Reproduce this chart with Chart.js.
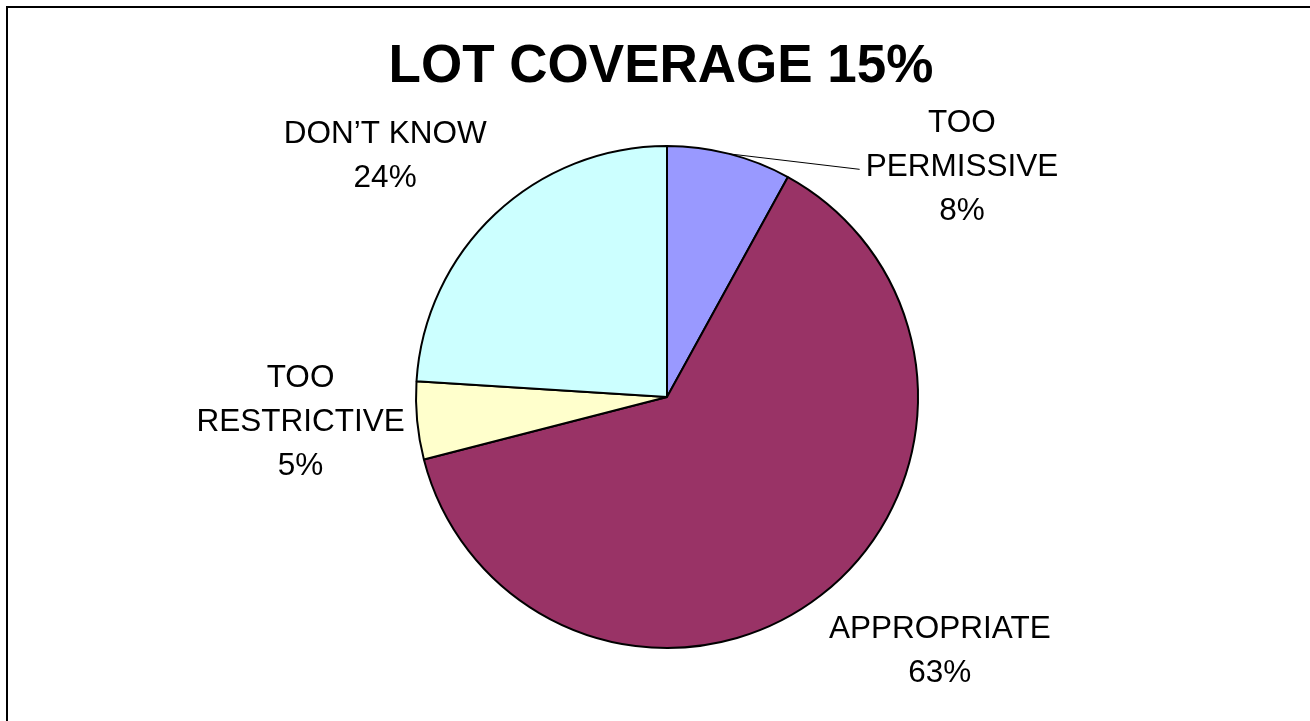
<!DOCTYPE html>
<html lang="en-US">
    <head>
        <title>Lot Coverage 15%</title>
        <script src="https://cdn.jsdelivr.net/npm/chart.js@4"></script>
        <style>
            body{
                margin: 0;
                background-color: white;
                overflow: hidden;
            }
            #wrap{
                position: absolute;
                left: 0;
                top: 0;
                width: 1310px;
                height: 721px;
            }
        </style>
    </head>
    <body>
        <div id="wrap"><canvas id="chart-0"></canvas></div>

        <script>
            // chart data
            var categories = ['TOO\nPERMISSIVE', 'APPROPRIATE', 'TOO\nRESTRICTIVE', 'DON\u2019T KNOW'];
            var shares = [8, 63, 5, 24];
            var sliceColors = ['#9999FF', '#993366', '#FFFFCC', '#CCFFFF'];
            var chartTitle = 'LOT COVERAGE 15%';

            // where each label block sits, in pie radii from the centre
            var labelSpots = [
                {dx: 1.175, dy: -0.915, leader: true},
                {dx: 1.087, dy: 1.012},
                {dx: -1.460, dy: 0.100},
                {dx: -1.123, dy: -0.958}
            ];

            // frame and title, drawn on the whole canvas
            var frame = {
                id: 'frame',
                beforeDraw: function(chart) {
                    var ctx = chart.ctx;
                    ctx.save();
                    ctx.fillStyle = '#000';
                    ctx.fillRect(6, 6, 2, chart.height);
                    ctx.fillRect(6, 6, chart.width, 2);
                    ctx.font = 'bold 53px "Liberation Sans", Arial, sans-serif';
                    ctx.textAlign = 'center';
                    ctx.textBaseline = 'alphabetic';
                    ctx.fillText(chartTitle, 661, 82);
                    ctx.restore();
                }
            };

            var sliceLabels = {
                id: 'sliceLabels',
                afterDatasetsDraw: function(chart) {
                    var ctx = chart.ctx;
                    var meta = chart.getDatasetMeta(0);
                    var total = shares.reduce(function(a, b) { return a + b; }, 0);
                    ctx.save();
                    ctx.font = '31.5px "Liberation Sans", Arial, sans-serif';
                    ctx.fillStyle = '#000';
                    ctx.textAlign = 'center';
                    ctx.textBaseline = 'middle';
                    meta.data.forEach(function(arc, i) {
                        var r = arc.outerRadius;
                        var spot = labelSpots[i];
                        var cx = arc.x + spot.dx * r;
                        var cy = arc.y + spot.dy * r;
                        var lines = categories[i].split('\n');
                        lines.push(Math.round(shares[i] / total * 100) + '%');
                        var lh = 44;
                        var y0 = cy - (lines.length - 1) * lh / 2;
                        lines.forEach(function(t, k) {
                            ctx.fillText(t, cx, y0 + k * lh);
                        });
                        if (spot.leader) {
                            var mid = (arc.startAngle + arc.endAngle) / 2;
                            var sx = arc.x + Math.cos(mid) * r;
                            var sy = arc.y + Math.sin(mid) * r;
                            var w = ctx.measureText(lines[1]).width;
                            ctx.beginPath();
                            ctx.strokeStyle = '#000';
                            ctx.lineWidth = 1;
                            ctx.moveTo(sx, sy);
                            ctx.lineTo(cx - w / 2 - 6, cy + 2);
                            ctx.stroke();
                        }
                    });
                    ctx.restore();
                }
            };

            var chart = new Chart('chart-0', {
                type: 'pie',
                data: {
                    labels: categories,
                    datasets: [{
                        data: shares,
                        backgroundColor: sliceColors,
                        borderColor: '#000',
                        borderWidth: 2
                    }]
                },
                options: {
                    responsive: true,
                    maintainAspectRatio: false,
                    animation: false,
                    layout: {
                        padding: {left: 415, right: 391, top: 145, bottom: 72}
                    },
                    plugins: {
                        legend: {display: false},
                        tooltip: {enabled: false},
                        title: {display: false}
                    }
                },
                plugins: [frame, sliceLabels]
            });
        </script>
    </body>
</html>
